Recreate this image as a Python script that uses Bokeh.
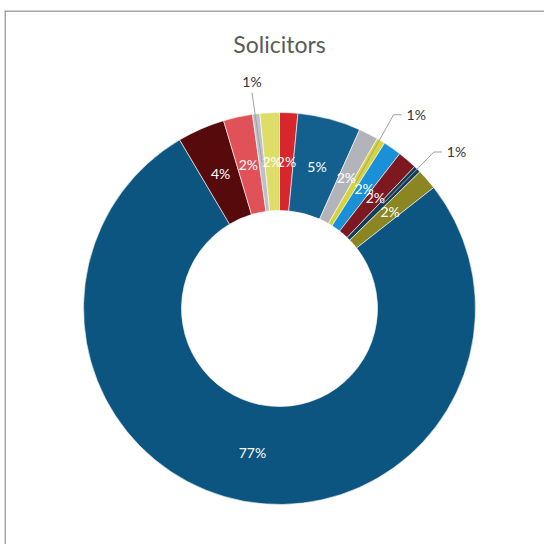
import numpy as np
from bokeh.plotting import figure
from bokeh.models import Range1d, ColumnDataSource
from bokeh.core.properties import value
from bokeh.embed import file_html
from bokeh.resources import INLINE

title = "Solicitors"
# slices clockwise from 12 o'clock
shares = [1.5, 5.2, 1.6, 0.7, 1.5, 1.6, 0.6, 1.7, 77.0, 3.9, 2.4, 0.6, 1.6]
labels = ["2%", "5%", "2%", "1%", "2%", "2%", "1%", "2%", "77%", "4%", "2%", "1%", "2%"]
colors = ["#d8262d", "#135f8e", "#b2b4ba", "#d6d43a", "#1a90d8", "#7d1820", "#133d5a",
          "#8c8622", "#0b5580", "#560a0c", "#e05258", "#bcc1c8", "#dedd6a"]
outside = [False, False, False, True, False, False, True, False, False, False, False, True, False]

W, H = 540, 534
cx, cy = 275, 236
r_out, r_in = 196, 98
r_mid = (r_out + r_in) / 2

p = figure(width=W, height=H, output_backend="svg", toolbar_location=None,
           x_range=Range1d(0, W), y_range=Range1d(0, H),
           x_axis_location=None, y_axis_location=None, min_border=0,
           margin=(10, 0, 0, 4))
p.grid.visible = False
p.outline_line_color = None
p.background_fill_color = "white"
p.border_fill_color = "white"

vals = np.array(shares, dtype=float)
frac = vals / vals.sum() * 2 * np.pi
ends = np.cumsum(frac)
starts = ends - frac
mids = (starts + ends) / 2
# convert clockwise-from-north to bokeh angles
b_start = np.pi / 2 - starts
b_end = np.pi / 2 - ends

src = ColumnDataSource(dict(start=b_start, end=b_end, color=colors))
p.annular_wedge(x=cx, y=cy, inner_radius=r_in, outer_radius=r_out,
                start_angle="start", end_angle="end", direction="clock",
                fill_color="color", line_color="white", line_width=0.6, source=src)

# frame lines (left and top)
p.line(x=[0.5, 0.5], y=[0, H], line_color="#8a8a8a", line_width=1.5)
p.line(x=[0, W], y=[H - 0.5, H - 0.5], line_color="#8a8a8a", line_width=1.5)

# title
p.text(x=[cx], y=[H - 33], text=[title], text_align="center", text_baseline="middle",
       text_font=value("Lato"), text_font_size="23px", text_color="#5a5a5a")

# inside labels
in_x, in_y, in_t = [], [], []
for m, lab, o in zip(mids, labels, outside):
    if not o:
        in_x.append(cx + r_mid * np.sin(m))
        in_y.append(cy + r_mid * np.cos(m))
        in_t.append(lab)
p.text(x=in_x, y=in_y, text=in_t, text_align="center", text_baseline="middle",
       text_font=value("Lato"), text_font_size="14px", text_color="white")

# outside labels with leaders
out_idx = [i for i, o in enumerate(outside) if o]
for i in out_idx:
    m = mids[i]
    px = cx + r_mid * np.sin(m)
    py = cy + r_mid * np.cos(m)
    if np.sin(m) > 0.2:
        kx = px + 38 if i == 3 else px + 51
        ky = py + 68 if i == 3 else py + 52
        p.line(x=[px, kx, kx + 8], y=[py, ky, ky], line_color="#a0a0a0", line_width=1)
        p.text(x=[kx + 13], y=[ky], text=[labels[i]], text_align="left",
               text_baseline="middle", text_font=value("Lato"),
               text_font_size="14px", text_color="#333333")
    else:
        tx = px - 10
        ty = cy + r_out + 30
        p.line(x=[px, tx], y=[py, ty - 10], line_color="#a0a0a0", line_width=1)
        p.text(x=[tx], y=[ty + 1], text=[labels[i]], text_align="center",
               text_baseline="middle", text_font=value("Lato"),
               text_font_size="14px", text_color="#333333")

open("out.html", "w").write(file_html(p, INLINE))
